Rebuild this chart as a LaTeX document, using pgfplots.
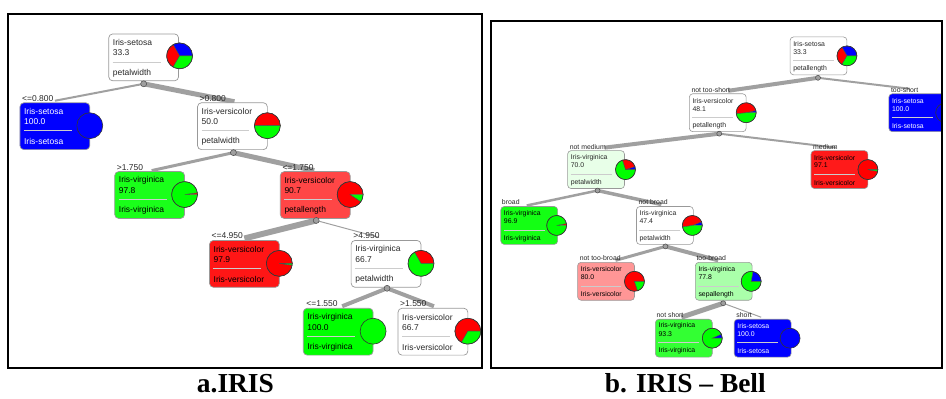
\documentclass[border=0pt]{standalone}
\usepackage{pgfplots}
\pgfplotsset{compat=1.18}
\usepackage{fontspec}
\setmainfont{Liberation Sans}
\newfontfamily\capfont{Liberation Serif}
\definecolor{wblue}{RGB}{0,0,255}
\definecolor{wred}{RGB}{255,0,0}
\definecolor{wgreen}{RGB}{0,255,0}
\definecolor{gA}{RGB}{26,255,26}
\definecolor{gB}{RGB}{20,255,20}
\definecolor{gC}{RGB}{51,255,51}
\definecolor{gL}{RGB}{170,255,170}
\definecolor{gVL}{RGB}{232,255,232}
\definecolor{rA}{RGB}{255,70,70}
\definecolor{rB}{RGB}{255,22,22}
\definecolor{rC}{RGB}{255,26,26}
\definecolor{rL}{RGB}{255,150,150}
\definecolor{edgegray}{RGB}{160,160,160}
\definecolor{txt}{RGB}{40,40,40}
\newcommand{\lfont}{\fontsize{8.5}{9}\selectfont}
\newcommand{\rfont}{\fontsize{6.9}{7.5}\selectfont}
\pgfplotsset{treeedge/.style={color=edgegray, no marks, forget plot},
  treedot/.style={only marks, mark=*, forget plot, mark options={fill=gray!75, draw=gray!60!black, line width=0.5pt}}}
% left-panel node box: x y fill textcolor line1 line2 line3
\newcommand{\Lbox}[7]{%
 \draw[draw=black!40, rounded corners=4pt, fill=#3, line width=0.7pt] (axis cs:#1,#2) rectangle (axis cs:#1+70,#2+47);
 \draw[black!20, line width=0.7pt] (axis cs:#1+4,#2+28) -- (axis cs:#1+52,#2+28);
 \node[anchor=west, inner sep=0pt, text=#4, font=\lfont] at (axis cs:#1+4,#2+9) {#5};
 \node[anchor=west, inner sep=0pt, text=#4, font=\lfont] at (axis cs:#1+4,#2+19) {#6};
 \node[anchor=west, inner sep=0pt, text=#4, font=\lfont] at (axis cs:#1+4,#2+39) {#7};
}
% right-panel node box
\newcommand{\Rbox}[7]{%
 \draw[draw=black!40, rounded corners=3.5pt, fill=#3, line width=0.6pt] (axis cs:#1,#2) rectangle (axis cs:#1+57,#2+38);
 \draw[black!20, line width=0.6pt] (axis cs:#1+3,#2+23.5) -- (axis cs:#1+44,#2+23.5);
 \node[anchor=west, inner sep=0pt, text=#4, font=\rfont] at (axis cs:#1+3,#2+7) {#5};
 \node[anchor=west, inner sep=0pt, text=#4, font=\rfont] at (axis cs:#1+3,#2+15) {#6};
 \node[anchor=west, inner sep=0pt, text=#4, font=\rfont] at (axis cs:#1+3,#2+32) {#7};
}
% pie slice: cx cy r a1 a2 colour
\newcommand{\slice}[6]{\filldraw[fill=#6, draw=black!70, line width=0.4pt] (axis cs:#1,#2) -- ++(#4:#3pt) arc[start angle=#4, end angle=#5, radius=#3pt] -- cycle;}
\newcommand{\disc}[4]{\filldraw[fill=#4, draw=black!80, line width=0.6pt] (axis cs:#1,#2) circle[radius=#3pt];}
\newcommand{\ring}[3]{\draw[black!80, line width=0.6pt] (axis cs:#1,#2) circle[radius=#3pt];}
\newcommand{\Llab}[3]{\node[anchor=west, inner sep=0pt, text=txt, font=\lfont] at (axis cs:#1,#2) {#3};}
\newcommand{\Rlab}[3]{\node[anchor=west, inner sep=0pt, text=txt, font=\rfont] at (axis cs:#1,#2) {#3};}
\begin{document}
\begin{tikzpicture}
\begin{axis}[scale only axis, width=946pt, height=399pt,
  xmin=0, xmax=946, ymin=0, ymax=399, y dir=reverse, hide axis, clip=false]
\path (axis cs:0,0) rectangle (axis cs:946,399);
% ================= panel a =================
\addplot[treeedge, line width=2pt] coordinates {(144,84) (55,101)};
\addplot[treeedge, line width=5pt] coordinates {(144,84) (235,102)};
\addplot[treeedge, line width=3pt] coordinates {(234,153) (152,171)};
\addplot[treeedge, line width=5pt] coordinates {(234,153) (315,171)};
\addplot[treeedge, line width=6pt] coordinates {(317,221) (245,239)};
\addplot[treeedge, line width=1pt] coordinates {(317,221) (380,238)};
\addplot[treeedge, line width=4pt] coordinates {(388,289) (343,307)};
\addplot[treeedge, line width=4pt] coordinates {(388,289) (435,307)};
\addplot[treedot, mark size=3pt] coordinates {(144,84) (234,153) (317,221) (388,289)};
\Llab{22}{99}{<=0.800}
\Llab{200}{99}{>0.800}
\Llab{117}{168}{>1.750}
\Llab{283}{168}{<=1.750}
\Llab{212}{236}{<=4.950}
\Llab{354}{236}{>4.950}
\Llab{307}{304}{<=1.550}
\Llab{401}{304}{>1.550}
% root
\Lbox{109}{34}{white}{txt}{Iris-setosa}{33.3}{petalwidth}
\slice{180}{56}{13}{0}{120}{wblue}\slice{180}{56}{13}{120}{240}{wred}\slice{180}{56}{13}{240}{360}{wgreen}\ring{180}{56}{13}
% <=0.800
\Lbox{20}{103}{wblue}{white}{Iris-setosa}{100.0}{Iris-setosa}
\disc{90}{126}{13}{wblue}
% >0.800
\Lbox{198}{103}{white}{txt}{Iris-versicolor}{50.0}{petalwidth}
\slice{268}{126}{13}{0}{180}{wred}\slice{268}{126}{13}{180}{360}{wgreen}\ring{268}{126}{13}
% >1.750
\Lbox{115}{172}{gA}{black}{Iris-virginica}{97.8}{Iris-virginica}
\slice{185}{195}{13}{0}{8}{wred}\slice{185}{195}{13}{8}{360}{wgreen}\ring{185}{195}{13}
% <=1.750
\Lbox{281}{172}{rA}{black}{Iris-versicolor}{90.7}{petallength}
\slice{351}{195}{13}{0}{326}{wred}\slice{351}{195}{13}{326}{360}{wgreen}\ring{351}{195}{13}
% <=4.950
\Lbox{210}{241}{rB}{black}{Iris-versicolor}{97.9}{Iris-versicolor}
\slice{280}{264}{13}{0}{352}{wred}\slice{280}{264}{13}{352}{360}{wgreen}\ring{280}{264}{13}
% >4.950
\Lbox{352}{241}{white}{txt}{Iris-virginica}{66.7}{petalwidth}
\slice{422}{264}{13}{0}{120}{wred}\slice{422}{264}{13}{120}{360}{wgreen}\ring{422}{264}{13}
% <=1.550
\Lbox{304}{309}{wgreen}{black}{Iris-virginica}{100.0}{Iris-virginica}
\disc{374}{332}{13}{wgreen}
% >1.550
\Lbox{399}{309}{white}{txt}{Iris-versicolor}{66.7}{Iris-versicolor}
\slice{469}{332}{13}{0}{240}{wred}\slice{469}{332}{13}{240}{360}{wgreen}\ring{469}{332}{13}
% ================= panel b =================
\addplot[treeedge, line width=4pt] coordinates {(820,78) (730,91)};
\addplot[treeedge, line width=2pt] coordinates {(820,78) (912,89)};
\addplot[treeedge, line width=4pt] coordinates {(721,134) (606,148)};
\addplot[treeedge, line width=2pt] coordinates {(721,134) (838,148)};
\addplot[treeedge, line width=2.5pt] coordinates {(599,191) (528,206)};
\addplot[treeedge, line width=3.5pt] coordinates {(599,191) (663,205)};
\addplot[treeedge, line width=3pt] coordinates {(667,247) (617,261)};
\addplot[treeedge, line width=4pt] coordinates {(667,247) (720,261)};
\addplot[treeedge, line width=5pt] coordinates {(725,304) (683,318)};
\addplot[treeedge, line width=1pt] coordinates {(725,304) (763,318)};
\addplot[treedot, mark size=2.5pt] coordinates {(820,78) (721,134) (599,191) (667,247) (725,304)};
\Rlab{693}{90}{not too-short}
\Rlab{893}{90}{too-short}
\Rlab{571}{147}{not medium}
\Rlab{815}{147}{medium}
\Rlab{503}{203}{broad}
\Rlab{640}{203}{not broad}
\Rlab{581}{259}{not too-broad}
\Rlab{698}{259}{too-broad}
\Rlab{658}{316}{not short}
\Rlab{738}{316}{short}
% root
\Rbox{792}{37}{white}{txt}{Iris-setosa}{33.3}{petallength}
\slice{849}{56}{10}{0}{120}{wblue}\slice{849}{56}{10}{120}{240}{wred}\slice{849}{56}{10}{240}{360}{wgreen}\ring{849}{56}{10}
% too-short (cut by the frame)
\draw[draw=black!40, rounded corners=3.5pt, fill=wblue, line width=0.6pt] (axis cs:944,94) -- (axis cs:891,94) -- (axis cs:891,132) -- (axis cs:944,132);
\draw[black!20, line width=0.6pt] (axis cs:894,117.5) -- (axis cs:935,117.5);
\node[anchor=west, inner sep=0pt, text=white, font=\rfont] at (axis cs:894,101) {Iris-setosa};
\node[anchor=west, inner sep=0pt, text=white, font=\rfont] at (axis cs:894,109) {100.0};
\node[anchor=west, inner sep=0pt, text=white, font=\rfont] at (axis cs:894,126) {Iris-setosa};
\draw[black!80, line width=0.6pt] (axis cs:948,113) ++(113.6:10pt) arc[start angle=113.6, end angle=246.4, radius=10pt];
% not too-short
\Rbox{691}{94}{white}{txt}{Iris-versicolor}{48.1}{petallength}
\slice{748}{113}{10}{0}{13}{wblue}\slice{748}{113}{10}{13}{186}{wred}\slice{748}{113}{10}{186}{360}{wgreen}\ring{748}{113}{10}
% not medium
\Rbox{569}{151}{gVL}{txt}{Iris-virginica}{70.0}{petalwidth}
\slice{627}{170}{10}{0}{18}{wblue}\slice{627}{170}{10}{18}{108}{wred}\slice{627}{170}{10}{108}{360}{wgreen}\ring{627}{170}{10}
% medium
\Rbox{813}{151}{rC}{black}{Iris-versicolor}{97.1}{Iris-versicolor}
\slice{870}{170}{10}{0}{350}{wred}\slice{870}{170}{10}{350}{360}{wgreen}\ring{870}{170}{10}
% broad
\Rbox{502}{207}{gB}{black}{Iris-virginica}{96.9}{Iris-virginica}
\slice{558}{226}{10}{0}{11}{wred}\slice{558}{226}{10}{11}{360}{wgreen}\ring{558}{226}{10}
% not broad
\Rbox{638}{207}{white}{txt}{Iris-virginica}{47.4}{petalwidth}
\slice{694}{226}{10}{0}{22}{wblue}\slice{694}{226}{10}{22}{189}{wred}\slice{694}{226}{10}{189}{360}{wgreen}\ring{694}{226}{10}
% not too-broad
\Rbox{579}{263}{rL}{black}{Iris-versicolor}{80.0}{Iris-versicolor}
\slice{636}{282}{10}{0}{288}{wred}\slice{636}{282}{10}{288}{360}{wgreen}\ring{636}{282}{10}
% too-broad
\Rbox{697}{263}{gL}{black}{Iris-virginica}{77.8}{sepallength}
\slice{753}{282}{10}{0}{80}{wblue}\slice{753}{282}{10}{80}{360}{wgreen}\ring{753}{282}{10}
% not short
\Rbox{657}{320}{gC}{black}{Iris-virginica}{93.3}{Iris-virginica}
\slice{714}{339}{10}{0}{24}{wblue}\slice{714}{339}{10}{24}{360}{wgreen}\ring{714}{339}{10}
% short
\Rbox{736}{320}{wblue}{white}{Iris-setosa}{100.0}{Iris-setosa}
\disc{792}{339}{10}{wblue}
% ================= frames and captions =================
\draw[line width=2.5pt] (axis cs:8,14) rectangle (axis cs:483,369);
\draw[line width=2.5pt] (axis cs:492,21) rectangle (axis cs:944.5,369);
\node[font=\capfont\bfseries\fontsize{27.5}{29}\selectfont, inner sep=0pt] at (axis cs:236,384.5) {a.IRIS};
\node[font=\capfont\bfseries\fontsize{27.5}{29}\selectfont, inner sep=0pt] at (axis cs:687,384.5) {b. IRIS – Bell};
\end{axis}
\end{tikzpicture}
\end{document}
